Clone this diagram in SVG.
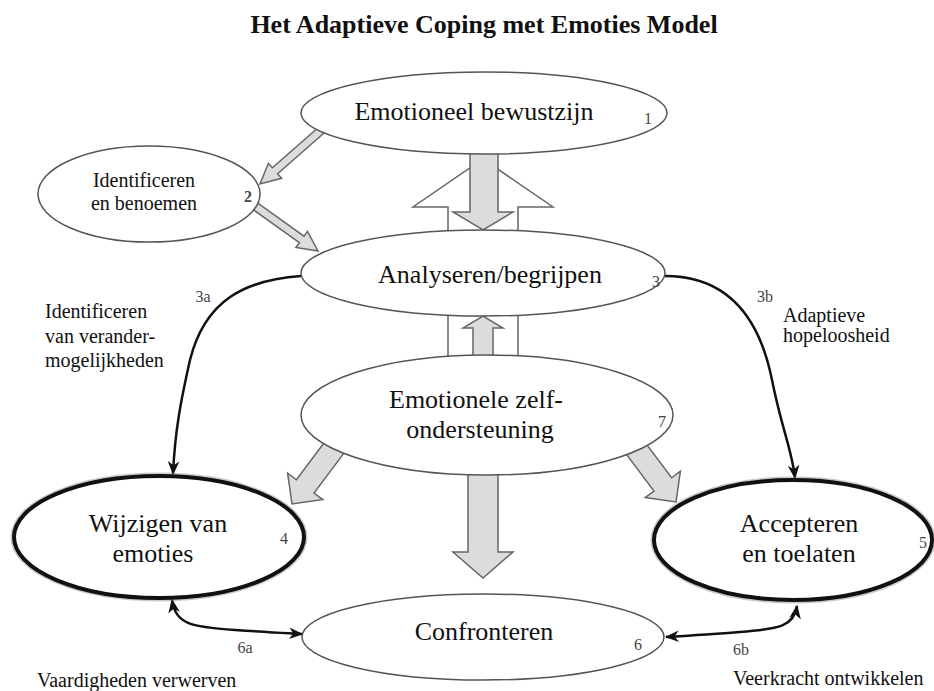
<svg xmlns="http://www.w3.org/2000/svg" width="934" height="691" viewBox="0 0 934 691">
<style>
.t{font-family:"Liberation Serif","Times New Roman",serif;fill:#111;text-anchor:middle}
.big{font-size:26px}
.mid{font-size:20px}
.num{font-family:"Liberation Serif","Times New Roman",serif;font-size:16px;fill:#444;text-anchor:middle}
.lab{font-family:"Liberation Serif","Times New Roman",serif;font-size:20px;fill:#111}
.thin{fill:#fff;stroke:#555;stroke-width:1.5}
.thick{fill:#fff;stroke:#111;stroke-width:4}
.halo{fill:none;stroke:#888;stroke-width:7;opacity:.45}
.ga{fill:#dcdcdc;stroke:#666;stroke-width:1.5;stroke-linejoin:miter}
.wa{fill:#fff;stroke:#666;stroke-width:1.5}
.curve{fill:none;stroke:#111;stroke-width:2.5}
</style>
<defs>
<marker id="ah" viewBox="0 0 12 10" refX="11" refY="5" markerUnits="userSpaceOnUse" markerWidth="14" markerHeight="12" orient="auto-start-reverse">
<path d="M0,0 L12,5 L0,10 L3.5,5 Z" fill="#111"/>
</marker>
</defs>
<rect width="934" height="691" fill="#fff"/>
<text class="t" x="484" y="33" style="font-size:26px;font-weight:bold">Het Adaptieve Coping met Emoties Model</text>

<g id="connectors">
<!-- 1 <-> 3 block arrows -->
<polygon class="wa" points="448,255 448,207 413,207 483,159 553,207 518,207 518,255"/>
<polygon class="ga" points="470,140 470,212 453,212 483,230 513,212 498,212 498,140"/>
<!-- 3 <-> 7 -->
<rect class="wa" x="448" y="300" width="70" height="70"/>
<polygon class="ga" points="473,375 473,328 463,328 483,316 503,328 493,328 493,375"/>
<!-- 7 -> 6 -->
<polygon class="ga" points="468,460 468,552 453,552 483,578 513,552 498,552 498,460"/>
<!-- 7 -> 4 -->
<polygon class="ga" points="357.8,434.6 314,493 322.8,499.6 292,504 287.6,473.2 296.4,479.8 340.2,421.4"/>
<!-- 7 -> 5 -->
<polygon class="ga" points="627.8,419.4 671.6,477.8 680.4,471.2 676,502 645.2,497.6 654,491 610.2,432.6"/>
<!-- 1 -> 2 -->
<polygon class="ga" points="328.6,129 277.6,173.8 281.6,178.3 260,184 268.4,163.3 272.4,167.8 323.4,123"/>
<!-- 2 -> 3 -->
<polygon class="ga" points="250.3,197.7 304,236.1 307.5,231.3 318,251 295.9,247.5 299.4,242.7 245.7,204.3"/>
<!-- curves -->
<path class="curve" d="M301,276 C245,280 205,300 190,360 C181,400 175,430 173,474" marker-end="url(#ah)"/>
<path class="curve" d="M665,276 C730,276 760,320 772,380 C782,430 792,450 795,478" marker-end="url(#ah)"/>
<path class="curve" d="M172,600 C176,624 190,627 235,630 S285,633 302,634" marker-start="url(#ah)" marker-end="url(#ah)"/>
<path class="curve" d="M797,606 C794,626 780,629 740,632 S685,636 666,637" marker-start="url(#ah)" marker-end="url(#ah)"/>
</g>

<g id="n1">
<ellipse class="thin" cx="484" cy="113" rx="183" ry="41"/>
<text class="t big" x="474" y="120">Emotioneel bewustzijn</text>
<text class="num" x="648" y="124">1</text>
</g>
<g id="n2">
<ellipse class="thin" cx="149" cy="194" rx="111" ry="48"/>
<text class="t mid" x="144" y="187">Identificeren</text>
<text class="t mid" x="144" y="210">en benoemen</text>
<text class="num" x="248" y="202" style="font-weight:bold">2</text>
</g>
<g id="n3">
<ellipse class="thin" cx="483" cy="273" rx="182" ry="43"/>
<text class="t big" x="490" y="283">Analyseren/begrijpen</text>
<text class="num" x="656" y="287">3</text>
</g>
<g id="n7">
<ellipse class="thin" cx="487" cy="415" rx="186" ry="60"/>
<text class="t big" x="476" y="408">Emotionele zelf-</text>
<text class="t big" x="480" y="438">ondersteuning</text>
<text class="num" x="662" y="427">7</text>
</g>
<g id="n4">
<ellipse class="halo" cx="159" cy="537" rx="145" ry="61"/>
<ellipse class="thick" cx="159" cy="537" rx="145" ry="61"/>
<text class="t big" x="158" y="532">Wijzigen van</text>
<text class="t big" x="153" y="562">emoties</text>
<text class="num" x="284" y="544">4</text>
</g>
<g id="n5">
<ellipse class="halo" cx="793" cy="540" rx="139" ry="60"/>
<ellipse class="thick" cx="793" cy="540" rx="139" ry="60"/>
<text class="t big" x="799" y="532">Accepteren</text>
<text class="t big" x="799" y="562">en toelaten</text>
<text class="num" x="923" y="548">5</text>
</g>
<g id="n6">
<ellipse class="thin" cx="483" cy="637" rx="181" ry="43"/>
<text class="t big" x="484" y="640">Confronteren</text>
<text class="num" x="638" y="650">6</text>
</g>

<g id="labels">
<text class="num" x="203" y="302">3a</text>
<text class="num" x="765" y="302">3b</text>
<text class="num" x="245" y="653">6a</text>
<text class="num" x="741" y="655">6b</text>
<text class="lab" x="45" y="318">Identificeren</text>
<text class="lab" x="45" y="343">van verander-</text>
<text class="lab" x="45" y="367">mogelijkheden</text>
<text class="lab" x="783" y="322">Adaptieve</text>
<text class="lab" x="783" y="342">hopeloosheid</text>
<text class="lab" x="37" y="687">Vaardigheden verwerven</text>
<text class="lab" x="733" y="685">Veerkracht ontwikkelen</text>
</g>
</svg>
